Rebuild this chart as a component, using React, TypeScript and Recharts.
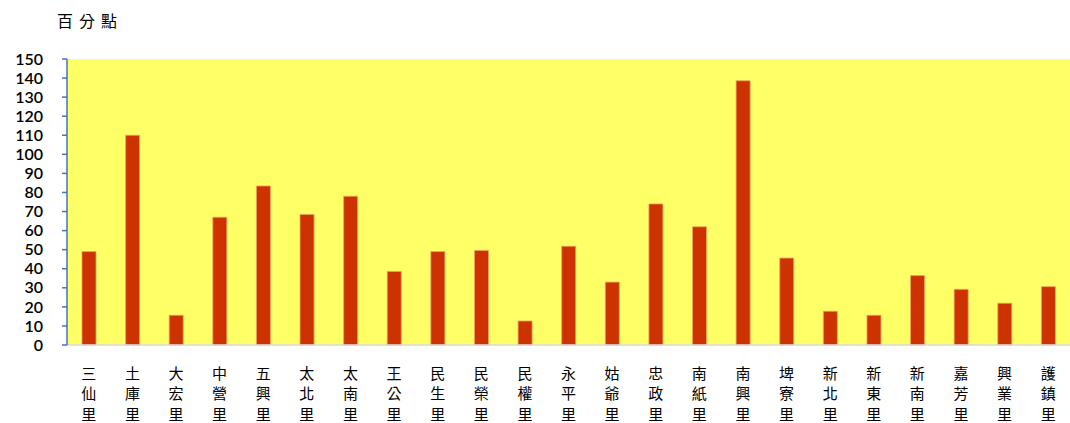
import { BarChart, Bar, XAxis, YAxis, CartesianGrid } from 'recharts';

const villages = [
  '三仙里', '土庫里', '大宏里', '中營里', '五興里', '太北里', '太南里', '王公里',
  '民生里', '民榮里', '民權里', '永平里', '姑爺里', '忠政里', '南紙里', '南興里',
  '埤寮里', '新北里', '新東里', '新南里', '嘉芳里', '興業里', '護鎮里',
];
const points = [
  49, 110, 15.6, 67, 83.4, 68.5, 78, 38.6,
  49, 49.6, 12.6, 51.8, 33, 74, 62, 138.6,
  45.6, 17.7, 15.6, 36.4, 29.2, 21.9, 30.6,
];
const yTicks = [0, 10, 20, 30, 40, 50, 60, 70, 80, 90, 100, 110, 120, 130, 140, 150];

const chartData = villages.map((name, i) => ({ name, value: points[i] }));

// stacked category labels, one glyph per row
const VerticalTick = ({ x, y, payload }: any) => {
  const chars = String(payload.value).split('');
  return (
    <g>
      {chars.map((c, i) => (
        <text
          key={i}
          x={x}
          y={y + 27 + i * 20.5}
          textAnchor="middle"
          dominantBaseline="central"
          fill="#000"
          fontSize={15}
          fontFamily='"Noto Sans CJK TC", sans-serif'
        >
          {c}
        </text>
      ))}
    </g>
  );
};

export default function App() {
  return (
    <div style={{ position: 'absolute', left: 0, top: 0, width: 1070, height: 423, background: '#fff' }}>
      <div
        style={{
          position: 'absolute',
          left: 57,
          top: 8,
          fontSize: 16,
          letterSpacing: 6,
          fontFamily: '"Noto Sans CJK TC", sans-serif',
          color: '#000',
        }}
      >
        百分點
      </div>
      <BarChart
        width={1070}
        height={423}
        data={chartData}
        margin={{ top: 59, right: 0, bottom: 0, left: 0 }}
        barCategoryGap={0}
      >
        <CartesianGrid fill="#FFFF66" stroke="none" horizontal={false} vertical={false} />
        <XAxis
          dataKey="name"
          height={78}
          interval={0}
          tickLine={false}
          tickSize={0}
          tickMargin={0}
          axisLine={{ stroke: '#D9D9D9', strokeWidth: 1.5 }}
          tick={<VerticalTick />}
        />
        <YAxis
          width={67}
          domain={[0, 150]}
          ticks={yTicks}
          interval={0}
          tickSize={5}
          tickMargin={19}
          axisLine={{ stroke: '#4472C4', strokeWidth: 1.5 }}
          tickLine={{ stroke: '#4472C4', strokeWidth: 1.5 }}
          tick={{ fill: '#000', fontSize: 16, fontWeight: 600, fontFamily: 'Lato, sans-serif' }}
        />
        <Bar
          dataKey="value"
          barSize={14}
          fill="#CC3300"
          stroke="#F0A060"
          strokeWidth={0.8}
          isAnimationActive={false}
        />
      </BarChart>
    </div>
  );
}
